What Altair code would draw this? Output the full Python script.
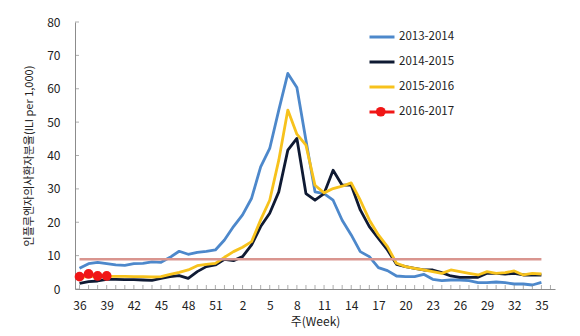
import json
import altair as alt
import pandas as pd

# ---- data ----
WEEKS = [36, 37, 38, 39, 40, 41, 42, 43, 44, 45, 46, 47, 48, 49, 50, 51, 52,
         1, 2, 3, 4, 5, 6, 7, 8, 9, 10, 11, 12, 13, 14, 15, 16, 17, 18, 19, 20,
         21, 22, 23, 24, 25, 26, 27, 28, 29, 30, 31, 32, 33, 34, 35]
TICK_LABEL_WEEKS = [36, 39, 42, 45, 48, 51, 2, 5, 8, 11, 14, 17, 20, 23, 26, 29, 32, 35]

S_2013_2014 = [6.2, 7.6, 8.0, 7.6, 7.2, 7.1, 7.6, 7.7, 8.1, 8.0, 9.5, 11.3, 10.4, 11.0,
               11.3, 11.7, 14.7, 18.7, 22.2, 27.2, 36.6, 42.1, 53.6, 64.6, 60.4, 44.6,
               29.1, 28.6, 26.6, 20.6, 16.2, 11.2, 9.7, 6.4, 5.5, 3.9, 3.7, 3.7, 4.4,
               2.9, 2.5, 2.7, 2.7, 2.5, 1.9, 1.9, 2.1, 1.9, 1.5, 1.5, 1.2, 2.0]
S_2014_2015 = [1.7, 2.2, 2.4, 2.9, 2.9, 2.8, 2.8, 2.7, 2.6, 3.2, 3.7, 4.0, 3.2, 5.2,
               6.7, 7.2, 8.9, 8.5, 9.7, 13.2, 18.7, 22.7, 29.1, 41.6, 45.1, 28.6, 26.6,
               28.6, 35.6, 31.1, 31.1, 23.7, 18.7, 15.2, 11.7, 7.4, 6.7, 6.2, 5.7, 5.7,
               4.9, 3.9, 3.5, 3.5, 3.5, 4.7, 4.7, 4.5, 4.7, 4.2, 4.2, 4.2]
S_2015_2016 = [3.5, 3.7, 3.8, 3.8, 3.8, 3.8, 3.7, 3.7, 3.6, 3.7, 4.4, 5.0, 5.7, 7.0,
               7.4, 7.7, 9.5, 11.2, 12.5, 14.2, 20.7, 26.6, 38.6, 53.6, 46.4, 43.1,
               31.1, 28.8, 30.1, 30.8, 31.8, 26.6, 20.7, 16.2, 12.7, 7.7, 6.7, 6.2,
               5.7, 5.2, 4.7, 5.7, 5.2, 4.7, 4.2, 5.2, 4.7, 4.9, 5.4, 4.2, 4.7, 4.5]
S_2016_2017 = [3.7, 4.5, 3.9, 3.9]
THRESHOLD = 8.9

SERIES = ["2013-2014", "2014-2015", "2015-2016", "2016-2017"]
COLORS = ["#4d88cb", "#0f1a33", "#f7c21c", "#f01616"]
WIDTHS = [2.8, 2.8, 3.8, 3.0]
Y_TICKS = [0, 10, 20, 30, 40, 50, 60, 70, 80]

# ---- tables ----
rows = []
for name, vals in zip(SERIES, [S_2013_2014, S_2014_2015, S_2015_2016, S_2016_2017]):
    for i, v in enumerate(vals):
        rows.append({"idx": i, "week": WEEKS[i], "series": name, "value": v})
df = pd.DataFrame(rows)
df_red = df[df.series == "2016-2017"]
df_thr = pd.DataFrame({"idx": [0], "end": [len(WEEKS) - 1], "value": [THRESHOLD]})
df_xt = pd.DataFrame({"idx": list(range(len(WEEKS) + 1)), "value": [0] * (len(WEEKS) + 1)})
df_yt = pd.DataFrame({"value": Y_TICKS})

FONT = "Noto Sans CJK KR"
AX = "#8c8c8c"
label_expr = json.dumps([str(w) for w in WEEKS]) + "[datum.value]"
tick_idx = [WEEKS.index(w) for w in TICK_LABEL_WEEKS]

xscale = alt.Scale(domain=[-0.5, len(WEEKS) + 0.5], nice=False, zero=False)
yscale = alt.Scale(domain=[0, 80], nice=False)

x_axis = alt.Axis(values=tick_idx, labelExpr=label_expr, title="주(Week)",
                  ticks=False, grid=False, domainColor=AX, labelPadding=11,
                  labelFontSize=12, labelColor="#222", labelFont=FONT,
                  labelOverlap=False, titleFont=FONT, titleFontSize=12,
                  titleFontWeight="normal", titleColor="#222", titlePadding=5,
                  labelFlush=False)
y_axis = alt.Axis(values=Y_TICKS, ticks=False, grid=False, domainColor=AX,
                  labelPadding=15, labelFontSize=12, labelColor="#222",
                  labelFont=FONT, labelOverlap=False,
                  title="인플루엔자의사환자분율(ILI per 1,000)",
                  titleFont=FONT, titleFontSize=11, titleFontWeight="normal",
                  titleColor="#222", titlePadding=12)

X = alt.X("idx:Q", scale=xscale, axis=x_axis)
Y = alt.Y("value:Q", scale=yscale, axis=y_axis)

lines = alt.Chart(df).mark_line(strokeJoin="round").encode(
    x=X, y=Y,
    stroke=alt.Stroke("series:N", scale=alt.Scale(domain=SERIES, range=COLORS),
                      legend=alt.Legend(title=None, orient="none", legendX=293, legendY=1,
                                        symbolType="stroke", symbolSize=625,
                                        symbolStrokeWidth=3, labelFontSize=11.5,
                                        labelFont=FONT, labelColor="#222", labelOffset=3,
                                        rowPadding=5, padding=0)),
    strokeWidth=alt.StrokeWidth("series:N", scale=alt.Scale(domain=SERIES, range=WIDTHS),
                                legend=None),
    order=alt.Order("idx:Q"),
)

thr = alt.Chart(df_thr).mark_rule(color="#d9958f", strokeWidth=2.5).encode(
    x=X, x2="end:Q", y=Y)

pts = alt.Chart(df_red).mark_point(filled=True, size=95, opacity=1).encode(
    x=X, y=Y,
    fill=alt.Fill("series:N", scale=alt.Scale(domain=["2016-2017"], range=["#f01616"]),
                  legend=alt.Legend(title=None, orient="none", legendX=300, legendY=84,
                                    symbolType="circle", symbolSize=95, labelExpr="''",
                                    labelFontSize=11.5, padding=0, symbolStrokeWidth=0)),
)

xt = alt.Chart(df_xt).mark_tick(orient="vertical", size=4, thickness=1, color=AX,
                                yOffset=-2).encode(x=X, y=Y)
yt = alt.Chart(df_yt).mark_tick(orient="horizontal", size=4, thickness=1, color=AX,
                                xOffset=2).encode(y=Y, x=alt.value(0))

chart = alt.layer(lines, xt, yt, thr, pts).resolve_scale(
    stroke="independent", fill="independent"
).properties(
    width=480, height=267,
    autosize=alt.AutoSizeParams(type="none"),
    padding={"left": 75, "top": 22, "right": 25, "bottom": 47},
    background="white",
).configure_view(stroke=None).configure_axis(labelOverlap=False)

chart.save("out.html", embed_options={"renderer": "svg", "actions": False})
